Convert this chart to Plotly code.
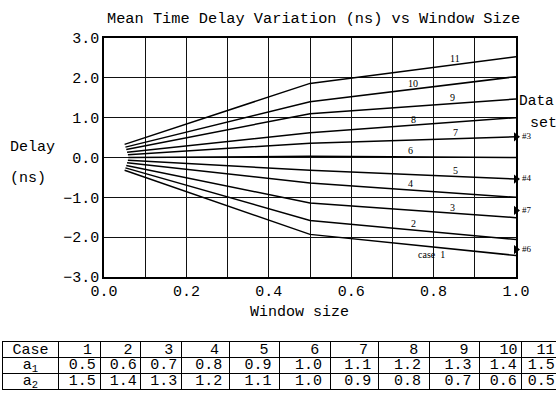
import numpy as np
import plotly.graph_objects as go

# ---------------- data ----------------
# window sizes where each case is sampled (the first point differs slightly per case)
window_start = [0.050, 0.052, 0.054, 0.056, 0.058, 0.059, 0.058, 0.056, 0.054, 0.052, 0.050]
window_rest = [0.5, 1.0]
case1 = [-0.32, -1.93, -2.46]
case2 = [-0.26, -1.58, -2.06]
case3 = [-0.20, -1.14, -1.51]
case4 = [-0.13, -0.64, -1.00]
case5 = [-0.07, -0.32, -0.54]
case6 = [0.00, 0.03, 0.00]
case7 = [0.07, 0.36, 0.52]
case8 = [0.13, 0.62, 1.00]
case9 = [0.20, 1.10, 1.47]
case10 = [0.26, 1.40, 2.03]
case11 = [0.33, 1.86, 2.53]
cases = [case1, case2, case3, case4, case5, case6, case7, case8, case9, case10, case11]
case_names = ["case  1", "2", "3", "4", "5", "6", "7", "8", "9", "10", "11"]

dataset_names = ["#3", "#4", "#7", "#6"]
dataset_delay = [0.52, -0.54, -1.33, -2.31]
dataset_window = [1.0, 1.0, 1.0, 1.0]

case_numbers = [str(i) for i in range(1, 12)]
a1 = [0.5, 0.6, 0.7, 0.8, 0.9, 1.0, 1.1, 1.2, 1.3, 1.4, 1.5]
a2 = [1.5, 1.4, 1.3, 1.2, 1.1, 1.0, 0.9, 0.8, 0.7, 0.6, 0.5]
row_names = ["Case", "a<sub>1</sub>", "a<sub>2</sub>"]

x_ticks = [0.0, 0.2, 0.4, 0.6, 0.8, 1.0]
y_ticks = [-3.0, -2.0, -1.0, 0.0, 1.0, 2.0, 3.0]

# ---------------- layout constants ----------------
W, H = 556, 415
px_l, px_r, px_t, px_b = 104, 516, 38, 277
MONO = "Liberation Mono"
SERIF = "Liberation Serif"

# table geometry (style): column widths in px, first column is the row-name column
table_left, table_top, table_bottom = 3, 342, 389
col_widths = [55, 42, 40, 41, 48, 50, 51, 48, 51, 50, 42, 35]
bounds = np.concatenate([[table_left], table_left + np.cumsum(col_widths)])

fig = go.Figure()

for ws, ys in zip(window_start, cases):
    fig.add_trace(go.Scatter(x=[ws] + window_rest, y=ys, mode="lines",
                             line=dict(color="black", width=1.5),
                             showlegend=False, hoverinfo="skip"))

fig.add_trace(go.Scatter(x=dataset_window, y=dataset_delay, mode="markers+text",
                         marker=dict(symbol="triangle-right", size=8, color="black"),
                         text=dataset_names, textposition="middle right",
                         textfont=dict(family=SERIF, size=9, color="black"),
                         cliponaxis=False, showlegend=False, hoverinfo="skip"))

# ---- table drawn on its own axes ----
name_x = (bounds[0] + bounds[1]) / 2
head_x = [bounds[i + 1] + 0.70 * col_widths[i + 1] for i in range(11)]
val_x = [bounds[i + 1] + 0.58 * col_widths[i + 1] for i in range(11)]
fig.add_trace(go.Scatter(
    x=[name_x] * 3 + head_x + val_x + val_x,
    y=[2.5, 1.5, 0.5] + [2.5] * 11 + [1.5] * 11 + [0.5] * 11,
    text=row_names + case_numbers + [f"{v:.1f}" for v in a1] + [f"{v:.1f}" for v in a2],
    mode="text", textposition="middle center",
    textfont=dict(family=MONO, size=15, color="black"),
    xaxis="x2", yaxis="y2", cliponaxis=True, showlegend=False, hoverinfo="skip"))

# line labels
label_x = [0.794, 0.75, 0.845, 0.743, 0.852, 0.743, 0.852, 0.75, 0.845, 0.75, 0.852]
annotations = []
for ws, ys, name, lx in zip(window_start, cases, case_names, label_x):
    ly = float(np.interp(lx, [ws] + window_rest, ys))
    shift = -8 if name.startswith("case") else 6
    annotations.append(dict(x=lx, y=ly, xref="x", yref="y", text=name, showarrow=False,
                            yshift=shift, font=dict(family=SERIF, size=10, color="black")))

annotations += [
    dict(text="Mean Time Delay Variation (ns) vs Window Size", x=313 / W, y=1 - 19 / H,
         xref="paper", yref="paper", showarrow=False, xanchor="center", yanchor="middle",
         font=dict(family=MONO, size=15.3, color="black")),
    dict(text="Delay", x=8 / W, y=1 - 147 / H, xref="paper", yref="paper", showarrow=False,
         xanchor="left", yanchor="middle", font=dict(family=MONO, size=15, color="black")),
    dict(text="(ns)", x=8 / W, y=1 - 178 / H, xref="paper", yref="paper", showarrow=False,
         xanchor="left", yanchor="middle", font=dict(family=MONO, size=15, color="black")),
    dict(text="Window size", x=299 / W, y=1 - 312 / H, xref="paper", yref="paper", showarrow=False,
         xanchor="center", yanchor="middle", font=dict(family=MONO, size=15, color="black")),
    dict(text="Data", x=517 / W, y=1 - 101 / H, xref="paper", yref="paper", showarrow=False,
         xanchor="left", yanchor="middle", font=dict(family=MONO, size=14.5, color="black")),
    dict(text="set", x=528 / W, y=1 - 123 / H, xref="paper", yref="paper", showarrow=False,
         xanchor="left", yanchor="middle", font=dict(family=MONO, size=15, color="black")),
]

axis_common = dict(showline=True, linecolor="black", linewidth=1.5, mirror=True,
                   showgrid=True, gridcolor="#111", gridwidth=1, zeroline=False,
                   ticks="", tickfont=dict(family=MONO, size=15, color="black"))

fig.update_layout(
    width=W, height=H, margin=dict(l=0, r=0, t=0, b=0, autoexpand=False),
    paper_bgcolor="white", plot_bgcolor="white",
    xaxis=dict(domain=[px_l / W, px_r / W], range=[0, 1], tickvals=x_ticks,
               ticktext=[f"{v:.1f}" for v in x_ticks], ticklabelstandoff=-1,
               minor=dict(dtick=0.1, showgrid=True, gridcolor="#111", gridwidth=1),
               **axis_common),
    yaxis=dict(domain=[1 - px_b / H, 1 - px_t / H], range=[-3, 3], tickvals=y_ticks,
               ticktext=[f"{v:.1f}".replace("-", "\u2212") for v in y_ticks],
               **axis_common),
    xaxis2=dict(domain=[table_left / W, 1.0], range=[table_left, W], anchor="y2",
                tickvals=list(bounds[1:-1]), showticklabels=False, ticks="",
                showgrid=True, gridcolor="black", gridwidth=1, zeroline=False,
                showline=True, linecolor="black", linewidth=1, mirror=True),
    yaxis2=dict(domain=[1 - table_bottom / H, 1 - table_top / H], range=[0, 3], anchor="x2",
                tickvals=[1, 2], showticklabels=False, ticks="",
                showgrid=True, gridcolor="black", gridwidth=1, zeroline=False,
                showline=True, linecolor="black", linewidth=1, mirror=False),
    annotations=annotations,
)

fig.write_html("out.html",
               post_script="document.body.style.margin='0';document.body.style.overflow='hidden';")
